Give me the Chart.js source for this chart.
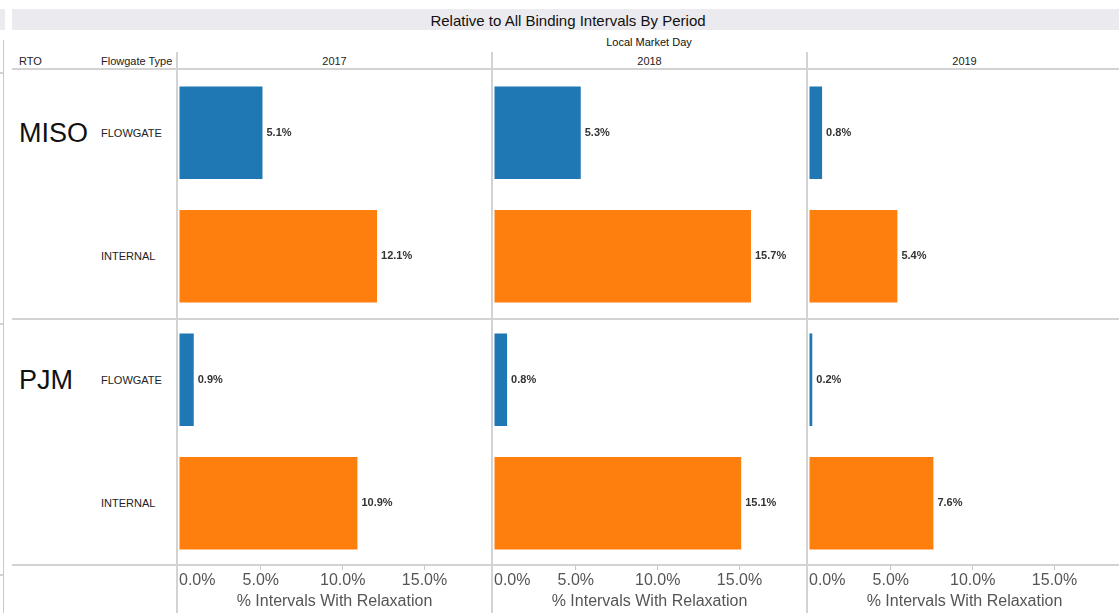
<!DOCTYPE html>
<html>
<head>
<meta charset="utf-8">
<script src="https://cdn.jsdelivr.net/npm/chart.js@4.4.1/dist/chart.umd.min.js"></script>
<style>
  body { margin: 0; width: 1119px; height: 613px; position: relative; overflow: hidden; background: #fff;
         font-family: "Liberation Sans", Arial, sans-serif; color: #222; }
  .abs { position: absolute; }
  .band { background: #ebebef; top: 9px; height: 21px; }
  .hline { position: absolute; height: 2px; background: #d3d3d3; }
  .vline { position: absolute; width: 2px; background: #d3d3d3; }
  .txt { position: absolute; white-space: nowrap; line-height: 1; }
  .mid { transform: translate(-50%, -50%); }
  .left { transform: translateY(-50%); }
  canvas { position: absolute; top: 71px; }
</style>
</head>
<body>
<div class="abs band" style="left:0;width:5px"></div>
<div class="abs band" style="left:12px;width:1107px"></div>
<div class="txt mid" style="left:568px;top:20px;font-size:15px;color:#111">Relative to All Binding Intervals By Period</div>
<div class="txt mid" style="left:649px;top:42px;font-size:11px;color:#111">Local Market Day</div>
<div class="txt left" style="left:19px;top:61px;font-size:11px">RTO</div>
<div class="txt left" style="left:101px;top:61px;font-size:11px">Flowgate Type</div>

<div class="vline" style="left:3px;top:40px;height:573px;width:1px;background:#c8c8c8"></div>
<div class="hline" style="left:0;top:72px;width:3px"></div>
<div class="hline" style="left:0;top:323px;width:3px"></div>
<div class="hline" style="left:0;top:574px;width:3px"></div>
<div class="hline" style="left:12px;top:68px;width:1107px"></div>
<div class="hline" style="left:12px;top:318px;width:1107px"></div>
<div class="hline" style="left:12px;top:564px;width:1107px"></div>

<div id="panels"></div>

<script>
const years = ["2017", "2018", "2019"];
const rtos = ["MISO", "PJM"];
const flowgateTypes = ["FLOWGATE", "INTERNAL"];
// order: MISO FLOWGATE, MISO INTERNAL, PJM FLOWGATE, PJM INTERNAL
const values2017 = [5.1, 12.1, 0.9, 10.9];
const values2018 = [5.3, 15.7, 0.8, 15.1];
const values2019 = [0.8, 5.4, 0.2, 7.6];
const tickValues = [0, 5, 10, 15];
const axisMax = 19.0;

const seriesByYear = [values2017, values2018, values2019];
const typeColors = { FLOWGATE: "#1f77b4", INTERNAL: "#ff7f0e" };
const rowLabels = [];
rtos.forEach(r => flowgateTypes.forEach(t => rowLabels.push(r + " " + t)));

Chart.defaults.font.family = '"Liberation Sans", Arial, sans-serif';

const panelLefts = [178, 493, 808];
const panelWidth = 313;
const canvasHeight = 542;
const host = document.getElementById("panels");

const barLabels = {
  id: "barLabels",
  afterDatasetsDraw(chart) {
    const ctx = chart.ctx;
    const meta = chart.getDatasetMeta(0);
    ctx.save();
    ctx.font = "bold 11px 'Liberation Sans', Arial, sans-serif";
    ctx.fillStyle = "#333";
    ctx.textBaseline = "middle";
    meta.data.forEach((bar, i) => {
      const v = chart.data.datasets[0].data[i];
      ctx.fillText(v.toFixed(1) + "%", bar.x + 4, bar.y);
    });
    ctx.restore();
  }
};

let firstChart = null;
years.forEach((year, p) => {
  const left = panelLefts[p];
  const vl = document.createElement("div");
  vl.className = "vline";
  vl.style.cssText = `left:${left - 2}px;top:52px;height:561px`;
  document.body.appendChild(vl);

  const yl = document.createElement("div");
  yl.className = "txt mid";
  yl.style.cssText = `left:${left + panelWidth / 2}px;top:61px;font-size:11px`;
  yl.textContent = year;
  document.body.appendChild(yl);

  const cv = document.createElement("canvas");
  cv.width = panelWidth;
  cv.height = canvasHeight;
  cv.style.left = left + "px";
  host.appendChild(cv);

  const chart = new Chart(cv, {
    type: "bar",
    data: {
      labels: rowLabels,
      datasets: [{
        data: seriesByYear[p],
        backgroundColor: rowLabels.map(l => typeColors[l.split(" ")[1]]),
        barPercentage: 0.75,
        categoryPercentage: 1
      }]
    },
    options: {
      indexAxis: "y",
      responsive: false,
      animation: false,
      devicePixelRatio: 1,
      layout: { padding: 0 },
      plugins: { legend: { display: false }, tooltip: { enabled: false } },
      scales: {
        y: { display: false },
        x: {
          min: 0,
          max: axisMax,
          afterBuildTicks: s => { s.ticks = tickValues.concat([axisMax]).map(v => ({ value: v })); },
          afterFit: s => { s.height = 48; },
          border: { display: false },
          grid: {
            drawOnChartArea: false,
            tickLength: 5,
            color: c => (c.tick && c.tick.value > 0 && tickValues.includes(c.tick.value)) ? "#c8c8c8" : "rgba(0,0,0,0)"
          },
          ticks: {
            align: "inner",
            autoSkip: false,
            maxRotation: 0,
            padding: 1,
            color: "#555",
            font: { size: 16 },
            callback: v => tickValues.includes(v) ? v.toFixed(1) + "%" : ""
          },
          title: {
            display: true,
            text: "% Intervals With Relaxation",
            color: "#555",
            font: { size: 16 },
            padding: { top: 0, bottom: 2 }
          }
        }
      }
    },
    plugins: [barLabels]
  });
  if (p === 0) firstChart = chart;
});

// row headers placed on the category scale of the first panel
const ys = firstChart.scales.y;
const top0 = 71;
rowLabels.forEach((label, i) => {
  const [rto, type] = label.split(" ");
  const y = top0 + ys.getPixelForValue(i);
  const t = document.createElement("div");
  t.className = "txt left";
  t.style.cssText = `left:101px;top:${y}px;font-size:11px`;
  t.textContent = type;
  document.body.appendChild(t);
  if (type === flowgateTypes[0]) {
    const r = document.createElement("div");
    r.className = "txt left";
    r.style.cssText = `left:19px;top:${y}px;font-size:27px;color:#111`;
    r.textContent = rto;
    document.body.appendChild(r);
  }
});
</script>
</body>
</html>
